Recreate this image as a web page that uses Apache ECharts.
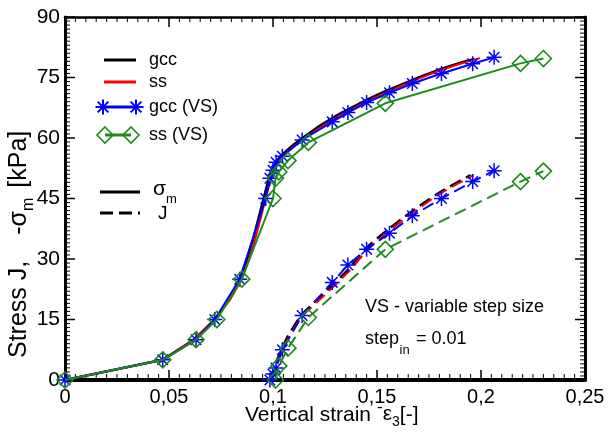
<!DOCTYPE html>
<html>
<head>
<meta charset="utf-8">
<script src="https://cdn.jsdelivr.net/npm/echarts@6/dist/echarts.min.js"></script>
<style>
  html, body { margin: 0; padding: 0; background: #fff; }
  #chart { width: 608px; height: 434px; }
</style>
</head>
<body>
<div id="chart"></div>
<script>
// Axis ticks
const xTicks = [0, 0.05, 0.1, 0.15, 0.2, 0.25];
const xTickLabels = ['0', '0,05', '0,1', '0,15', '0,2', '0,25'];
const yTicks = [0, 15, 30, 45, 60, 75, 90];
const yTickLabels = ['0', '15', '30', '45', '60', '75', '90'];

// gcc, sigma_m (full solution)
const gccSigX = [0, 0.047, 0.062, 0.072, 0.079, 0.084, 0.0875, 0.0905, 0.093, 0.095, 0.0965, 0.0978, 0.099, 0.1005, 0.1025, 0.105, 0.110, 0.116, 0.123, 0.130, 0.138, 0.146, 0.154, 0.162, 0.170, 0.178, 0.186, 0.193, 0.197];
const gccSigY = [0, 5, 10, 15, 20, 25, 30, 35, 40, 44, 47, 49.5, 51.5, 53.2, 54.8, 56.2, 58.4, 60.7, 63.2, 65.4, 67.6, 69.7, 71.6, 73.3, 75, 76.6, 78, 79.1, 79.6];
// ss, sigma_m
const ssSigX = [0, 0.047, 0.062, 0.072, 0.0795, 0.085, 0.0885, 0.0915, 0.094, 0.096, 0.0975, 0.0988, 0.100, 0.1015, 0.1035, 0.106, 0.111, 0.117, 0.124, 0.131, 0.139, 0.147, 0.155, 0.163, 0.171, 0.179, 0.187, 0.194, 0.1995];
const ssSigY = [0, 5, 10, 15, 20, 25, 30, 35, 40, 44, 47, 49.5, 51.5, 53.2, 54.8, 56.2, 58.3, 60.6, 63, 65.2, 67.4, 69.5, 71.4, 73.2, 74.9, 76.5, 77.9, 79, 79.8];
// gcc, J
const gccJX = [0.099, 0.100, 0.102, 0.107, 0.1135, 0.120, 0.128, 0.136, 0.145, 0.155, 0.166, 0.180, 0.195];
const gccJY = [0, 2, 5, 10.7, 16, 19.3, 23.2, 27.3, 32.8, 37.2, 41.5, 46.5, 50.8];
// ss, J
const ssJX = [0.0995, 0.1005, 0.1025, 0.1075, 0.114, 0.121, 0.129, 0.137, 0.146, 0.156, 0.167, 0.181, 0.1965];
const ssJY = [0, 2, 5, 10.5, 15.8, 19.2, 23.1, 27.2, 32.6, 37.1, 41.4, 46.4, 50.8];

// gcc (VS): loading branch, then sigma_m and J share strain steps
const gccVSLoadX = [0, 0.047, 0.063, 0.072, 0.084, 0.0965];
const gccVSLoadY = [0, 5, 10, 15, 25, 45];
const gccVSStepX = [0.0985, 0.100, 0.1015, 0.1045, 0.114, 0.1285, 0.136, 0.145, 0.156, 0.167, 0.181, 0.196, 0.2063];
const gccVSSigY = [50, 52, 54, 55.5, 59.5, 64, 66.3, 68.8, 71.2, 73.5, 76, 78.4, 80];
const gccVSJY = [0, 1.5, 3, 7.5, 16, 24.2, 28.5, 32.4, 36.4, 40.7, 45, 49.2, 51.9];

// ss (VS)
const ssVSLoadX = [0, 0.047, 0.063, 0.073, 0.085, 0.100];
const ssVSLoadY = [0, 5, 10, 15, 25, 45];
const ssVSStepX = [0.1012, 0.1028, 0.1072, 0.117, 0.154, 0.219, 0.23];
const ssVSSigY = [50, 51.6, 54.4, 58.9, 68.6, 78.5, 79.7];
const ssVSJY = [0, 3.5, 7.9, 15.5, 32.4, 49.2, 51.8];

const C_BLACK = '#000000';
const C_RED = '#ff0000';
const C_BLUE = '#0000ff';
const C_GREEN = '#1a8c1a';
const FONT = '"Liberation Sans", Arial, sans-serif';
const DASH = [12, 6];

// Eight-spoke asterisk marker
const STAR = 'path://M9,0L11,0L11,20L9,20Z M0,9L20,9L20,11L0,11Z ' +
  'M2.3,3.7L3.7,2.3L17.7,16.3L16.3,17.7Z M16.3,2.3L17.7,3.7L3.7,17.7L2.3,16.3Z';

const zip = (xs, ys) => xs.map((x, i) => [x, ys[i]]);

function lineSeries(name, data, color, opts) {
  return Object.assign({
    name: name,
    type: 'line',
    data: data,
    showSymbol: false,
    symbol: 'none',
    lineStyle: { color: color, width: 2 },
    itemStyle: { color: color },
    z: 2
  }, opts || {});
}
function starSeries(name, data, dashed) {
  return lineSeries(name, data, C_BLUE, {
    symbol: STAR, symbolSize: 15, showSymbol: true,
    lineStyle: { color: C_BLUE, width: 2, type: dashed ? DASH : 'solid' },
    itemStyle: { color: C_BLUE, borderWidth: 0 },
    z: 3
  });
}
function diamondSeries(name, data, dashed) {
  return lineSeries(name, data, C_GREEN, {
    symbol: 'diamond', symbolSize: 16, showSymbol: true,
    lineStyle: { color: C_GREEN, width: 2, type: dashed ? DASH : 'solid' },
    itemStyle: { color: 'rgba(0,0,0,0)', borderColor: C_GREEN, borderWidth: 1.6 },
    z: 4
  });
}

// Inward tick marks on all four sides of the frame: [x, y, dx, dy] in data units + pixel offsets
const frameTicks = [];
for (let i = 0; i <= 50; i++) {
  const v = i * 0.005;
  const major = i % 10 === 0;
  frameTicks.push([v, 0, 0, major ? -10 : -6]);
  frameTicks.push([v, 90, 0, major ? 10 : 5]);
}
for (let i = 0; i <= 90; i++) {
  const major = i % 15 === 0;
  frameTicks.push([0, i, major ? 10 : 5, 0]);
  frameTicks.push([0.25, i, major ? -10 : -5, 0]);
}
const tickSeries = {
  type: 'custom',
  name: 'frame ticks',
  silent: true,
  z: 1,
  clip: false,
  dimensions: ['x', 'y', 'dx', 'dy'],
  encode: { x: 0, y: 1 },
  data: frameTicks,
  renderItem: function (params, api) {
    const p = api.coord([api.value(0), api.value(1)]);
    const dx = api.value(2), dy = api.value(3);
    const major = Math.abs(dx) + Math.abs(dy) >= 10;
    return {
      type: 'line',
      shape: { x1: p[0], y1: p[1], x2: p[0] + dx, y2: p[1] + dy },
      style: { stroke: '#000', lineWidth: major ? 1.5 : 1 }
    };
  }
};

const ctx = document.createElement('canvas').getContext('2d');
function textWidth(t, size) { ctx.font = size + 'px ' + FONT; return ctx.measureText(t).width; }
function txt(t, x, y, size, extra) {
  return {
    type: 'text', x: x, y: y, silent: true,
    style: Object.assign({ text: t, font: size + 'px ' + FONT, fill: '#000', align: 'left', verticalAlign: 'middle' }, extra || {})
  };
}
function seg(x1, y1, x2, y2, color, w, dash) {
  const st = { stroke: color, lineWidth: w };
  if (dash) st.lineDash = dash;
  return { type: 'line', silent: true, shape: { x1: x1, y1: y1, x2: x2, y2: y2 }, style: st };
}
// Legend asterisk built from four strokes
function starIcon(cx, cy, r, color) {
  const d = r * 0.72;
  return [
    seg(cx, cy - r, cx, cy + r, color, 2),
    seg(cx - r, cy, cx + r, cy, color, 2),
    seg(cx - d, cy - d, cx + d, cy + d, color, 2),
    seg(cx - d, cy + d, cx + d, cy - d, color, 2)
  ];
}

// Legend and annotations
const graphics = [];
const LX = 149, LS = 18;
graphics.push(seg(104, 60, 136, 60, C_BLACK, 3));
graphics.push(txt('gcc', LX, 60, LS));
graphics.push(seg(104, 82, 136, 82, C_RED, 3));
graphics.push(txt('ss', LX, 82, LS));
graphics.push(seg(103, 107, 136, 107, C_BLUE, 3));
graphics.push(...starIcon(103, 107, 7.5, C_BLUE), ...starIcon(136, 107, 7.5, C_BLUE));
graphics.push(txt('gcc (VS)', LX, 107, LS));
graphics.push(seg(105, 135, 131, 135, C_GREEN, 3));
[105, 131].forEach(cx => graphics.push({
  type: 'polygon', silent: true, shape: { points: [[cx, 127], [cx + 8, 135], [cx, 143], [cx - 8, 135]] },
  style: { fill: 'rgba(0,0,0,0)', stroke: C_GREEN, lineWidth: 1.6 }
}));
graphics.push(txt('ss (VS)', LX, 135, LS));
graphics.push(seg(100, 192, 140, 192, C_BLACK, 3));
graphics.push(txt('σ', 153, 189, 21));
graphics.push(txt('m', 166, 199, 13));
graphics.push(seg(100, 213, 140, 213, C_BLACK, 3, [13, 6]));
graphics.push(txt('J', 158, 214, 19));

graphics.push(txt('VS - variable step size', 365, 307, 18));
graphics.push(txt('step', 365, 339, 18));
graphics.push(txt('in', 365 + textWidth('step', 18) + 0.5, 350, 13));
graphics.push(txt('= 0.01', 416, 339, 18));

// x-axis title
const XT = 21;
let xx = 245;
graphics.push(txt('Vertical strain', xx, 415, XT));
xx += textWidth('Vertical strain', XT) + 6;
graphics.push(txt('-', xx, 407, 17));
xx += textWidth('-', 17);
graphics.push(txt('ε', xx, 414, XT));
xx += textWidth('ε', XT);
graphics.push(txt('3', xx, 422, 14));
xx += textWidth('3', 14);
graphics.push(txt('[-]', xx, 415, XT));

// y-axis title, rotated to read upward
const YT = 25;
const yKids = [];
let yy = 0;
yKids.push(txt('Stress J,', yy, 0, YT));
yy += textWidth('Stress J,', YT) + 26;
yKids.push(txt('-σ', yy, 0, YT));
yy += textWidth('-σ', YT);
yKids.push(txt('m', yy, 10, 16));
yy += textWidth('m', 16) + 10;
yKids.push(txt('[kPa]', yy, 0, YT));
graphics.push({ type: 'group', x: 19, y: 358, rotation: Math.PI / 2, children: yKids });

const option = {
  animation: false,
  grid: { left: 65, right: 23, top: 17, bottom: 54 },
  xAxis: [
    { type: 'value', min: 0, max: 0.25, interval: 0.05, position: 'bottom',
      splitLine: { show: false },
      axisTick: { show: false },
      axisLine: { show: true, onZero: false, lineStyle: { color: '#000', width: 4 } },
      axisLabel: {
        color: '#000', fontSize: 20, fontFamily: FONT, margin: 7,
        formatter: v => xTickLabels[xTicks.indexOf(Math.round(v * 100) / 100)]
      } },
    { type: 'value', min: 0, max: 0.25, interval: 0.05, position: 'top',
      splitLine: { show: false },
      axisTick: { show: false },
      axisLabel: { show: false },
      axisLine: { show: true, onZero: false, lineStyle: { color: '#000', width: 2.5 } } }
  ],
  yAxis: [
    { type: 'value', min: 0, max: 90, interval: 15, position: 'left',
      splitLine: { show: false },
      axisTick: { show: false },
      axisLine: { show: true, onZero: false, lineStyle: { color: '#000', width: 3 } },
      axisLabel: {
        color: '#000', fontSize: 21, fontFamily: FONT, margin: 5,
        formatter: v => yTickLabels[yTicks.indexOf(Math.round(v))]
      } },
    { type: 'value', min: 0, max: 90, interval: 15, position: 'right',
      splitLine: { show: false },
      axisTick: { show: false },
      axisLabel: { show: false },
      axisLine: { show: true, onZero: false, lineStyle: { color: '#000', width: 3 } } }
  ],
  series: [
    tickSeries,
    lineSeries('gcc', zip(gccSigX, gccSigY), C_BLACK, { lineStyle: { color: C_BLACK, width: 2.5 } }),
    lineSeries('gcc J', zip(gccJX, gccJY), C_BLACK, { smooth: 0.2, lineStyle: { color: C_BLACK, width: 2.5, type: DASH } }),
    lineSeries('ss', zip(ssSigX, ssSigY), C_RED),
    lineSeries('ss J', zip(ssJX, ssJY), C_RED, { smooth: 0.2, lineStyle: { color: C_RED, width: 2, type: DASH } }),
    starSeries('gcc (VS)', zip(gccVSLoadX.concat(gccVSStepX), gccVSLoadY.concat(gccVSSigY)), false),
    starSeries('gcc (VS) J', zip(gccVSStepX, gccVSJY), true),
    diamondSeries('ss (VS)', zip(ssVSLoadX.concat(ssVSStepX), ssVSLoadY.concat(ssVSSigY)), false),
    diamondSeries('ss (VS) J', zip(ssVSStepX, ssVSJY), true)
  ],
  graphic: graphics
};

const chart = echarts.init(document.getElementById('chart'));
chart.setOption(option);
</script>
</body>
</html>
